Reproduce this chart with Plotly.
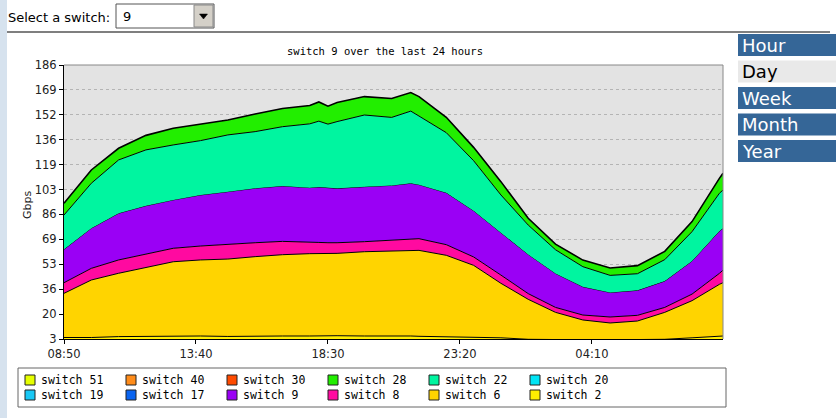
import plotly.graph_objects as go
import pandas as pd

# ---------------- data ----------------
start_time = "2010-03-01 08:50"
minutes = [0, 60, 120, 180, 240, 300, 360, 420, 480, 540, 560, 580, 600, 660, 720, 762,
           780, 840, 900, 960, 1020, 1080, 1140, 1200, 1260, 1320, 1380, 1440, 1448]

switch_2 = [4.0, 4.0, 4.6, 4.8, 4.8, 5.0, 4.7, 5.0, 5.0, 5.0, 5.2, 5.0, 5.2, 5.0, 5.2, 5.0,
            4.8, 4.6, 4.2, 3.8, 2.8, 2.5, 2.5, 2.5, 2.5, 2.8, 3.8, 4.8, 5.0]
switch_6 = [29.5, 38.4, 42.3, 46.1, 49.8, 50.8, 51.7, 53.0, 54.3, 55.0, 54.8, 55.0, 55.0, 56.3, 56.8, 57.4,
            57.4, 54.3, 48.0, 36.4, 26.7, 18.3, 13.2, 11.2, 12.5, 18.0, 24.8, 34.7, 35.6]
switch_8 = [7.1, 7.8, 8.9, 8.9, 9.0, 9.3, 9.9, 9.3, 8.9, 7.3, 7.5, 7.3, 7.1, 6.7, 6.9, 7.4,
            7.8, 7.1, 5.6, 5.5, 3.8, 3.3, 3.3, 4.0, 3.8, 3.3, 4.4, 7.3, 8.4]
switch_9 = [22.3, 26.8, 31.2, 32.2, 32.3, 34.1, 35.1, 36.4, 37.0, 36.8, 37.0, 36.6, 36.3, 36.7, 36.7, 37.2,
            36.1, 34.7, 30.9, 28.3, 26.2, 22.7, 18.9, 16.4, 16.7, 17.6, 22.1, 28.3, 27.9]
switch_17 = [0] * len(minutes)
switch_19 = [0] * len(minutes)
switch_20 = [0] * len(minutes)
switch_22 = [22.9, 30.0, 35.6, 37.3, 36.7, 36.3, 37.9, 37.8, 39.6, 42.6, 44.0, 42.6, 44.6, 47.9, 45.4, 48.2,
             45.8, 40.1, 33.4, 25.2, 19.6, 15.8, 13.4, 11.4, 11.1, 14.3, 19.6, 25.2, 25.6]
switch_28 = [7.8, 8.9, 7.8, 9.7, 11.1, 10.9, 10.0, 11.8, 12.2, 12.2, 12.8, 12.0, 12.7, 12.3, 12.6, 12.4,
             13.0, 10.3, 8.9, 8.9, 4.5, 3.8, 4.4, 4.9, 5.4, 5.5, 6.7, 10.0, 11.2]
switch_30 = [0] * len(minutes)
switch_40 = [0] * len(minutes)
switch_51 = [0] * len(minutes)

legend_names = ["switch 51", "switch 40", "switch 30", "switch 28", "switch 22", "switch 20",
                "switch 19", "switch 17", "switch 9", "switch 8", "switch 6", "switch 2"]
legend_colors = ["#e6ff00", "#ff8c1a", "#ff4b00", "#22ee00", "#00f5a0", "#00e4f5",
                 "#19c8f5", "#0a64f0", "#9a00f5", "#ff0aa0", "#ffd400", "#ffee00"]

y_ticks = [3, 19.636, 36.273, 52.909, 69.545, 86.182, 102.818, 119.455, 136.091, 152.727, 169.364, 186]
y_tick_labels = ["3", "20", "36", "53", "69", "86", "103", "119", "136", "152", "169", "186"]
x_tick_step_min = 290
x_span_min = 1448

menu_items = ["Hour", "Day", "Week", "Month", "Year"]
selected_menu = "Day"
title_text = "switch 9 over the last 24 hours"
selected_switch = "9"
y_title = "Gbps"

# ---------------- figure ----------------
W, H = 840, 418
L, R, T, B = 64, 723, 65, 339


def fx(x):
    return (x - L) / (R - L)


def fy(y):
    return (B - y) / (B - T)


t0 = pd.Timestamp(start_time)
xs = [t0 + pd.Timedelta(minutes=m) for m in minutes]

stack = [("switch 2", switch_2), ("switch 6", switch_6), ("switch 8", switch_8),
         ("switch 9", switch_9), ("switch 17", switch_17), ("switch 19", switch_19),
         ("switch 20", switch_20), ("switch 22", switch_22), ("switch 28", switch_28),
         ("switch 30", switch_30), ("switch 40", switch_40), ("switch 51", switch_51)]
color_of = dict(zip(legend_names, legend_colors))

fig = go.Figure()
for name, vals in stack:
    zero = all(v == 0 for v in vals)
    fig.add_trace(go.Scatter(
        x=xs, y=vals, name=name, mode="lines", stackgroup="one",
        fillcolor=color_of[name],
        line=dict(color="black", width=0 if zero else (1.6 if name == "switch 28" else 1)),
        hoverinfo="skip", showlegend=False))

sans = "DejaVu Sans"
mono = "DejaVu Sans Mono"

fig.update_layout(
    width=W, height=H, margin=dict(l=L, r=W - R, t=T, b=H - B),
    paper_bgcolor="white", plot_bgcolor="#e3e3e3",
    showlegend=False,
    xaxis=dict(type="date", range=[t0, t0 + pd.Timedelta(minutes=x_span_min)],
               tick0=t0, dtick=x_tick_step_min * 60000, tickformat="%H:%M",
               ticks="outside", ticklen=4, tickcolor="black", showline=True,
               linecolor="black", linewidth=1, showgrid=False, zeroline=False,
               tickfont=dict(family=sans, size=11.5, color="#222")),
    yaxis=dict(range=[3, 186], tickvals=y_ticks, ticktext=y_tick_labels,
               ticks="outside", ticklen=4, tickcolor="black", showline=True,
               linecolor="black", linewidth=1, showgrid=True, gridcolor="#b4b4b4",
               griddash="dot", gridwidth=1, zeroline=False,
               tickfont=dict(family=sans, size=11.5, color="#222")),
)

shapes = []
ann = []
# left blue page strip
shapes.append(dict(type="rect", xref="paper", yref="paper", x0=fx(0), x1=fx(7), y0=fy(H), y1=fy(0),
                   fillcolor="#d6e2ee", line=dict(width=0), layer="below"))
# top separator line
shapes.append(dict(type="line", xref="paper", yref="paper", x0=fx(7), x1=fx(830), y0=fy(32), y1=fy(32),
                   line=dict(color="#555", width=1.5)))
# plot top/right borders
shapes.append(dict(type="line", xref="paper", yref="paper", x0=0, x1=1, y0=1, y1=1,
                   line=dict(color="#888", width=1)))
shapes.append(dict(type="line", xref="paper", yref="paper", x0=1, x1=1, y0=0, y1=1,
                   line=dict(color="#888", width=1)))

# y axis title
ann.append(dict(text=y_title, xref="paper", yref="paper", x=fx(27), y=fy(205), textangle=-90,
                xanchor="center", yanchor="middle", showarrow=False,
                font=dict(family=sans, size=11, color="#222")))

# select label + dropdown
ann.append(dict(text="Select a switch:", xref="paper", yref="paper", x=fx(6), y=fy(17),
                xanchor="left", yanchor="middle", showarrow=False,
                font=dict(family=sans, size=13, color="black")))
shapes.append(dict(type="rect", xref="paper", yref="paper", x0=fx(116), x1=fx(214), y0=fy(28), y1=fy(4),
                   fillcolor="white", line=dict(color="#555", width=1)))
shapes.append(dict(type="rect", xref="paper", yref="paper", x0=fx(194), x1=fx(213), y0=fy(27), y1=fy(5),
                   fillcolor="#d4d0c8", line=dict(color="#888", width=1)))
shapes.append(dict(type="path", xref="paper", yref="paper",
                   path="M %f,%f L %f,%f L %f,%f Z" % (fx(199.5), fy(14), fx(207.5), fy(14), fx(203.5), fy(19)),
                   fillcolor="black", line=dict(color="black", width=0.5)))
ann.append(dict(text=selected_switch, xref="paper", yref="paper", x=fx(121), y=fy(16),
                xanchor="left", yanchor="middle", showarrow=False,
                font=dict(family=sans, size=13, color="black")))

# title
ann.append(dict(text=title_text, xref="paper", yref="paper", x=fx(385), y=fy(51),
                xanchor="center", yanchor="middle", showarrow=False,
                font=dict(family=mono, size=10.5, color="black")))

# right menu
for i, item in enumerate(menu_items):
    top = 34 + i * 26.5
    sel = item == selected_menu
    shapes.append(dict(type="rect", xref="paper", yref="paper", x0=fx(738), x1=fx(836),
                       y0=fy(top + 22), y1=fy(top),
                       fillcolor="#e9e9e9" if sel else "#356697", line=dict(width=0)))
    ann.append(dict(text=item, xref="paper", yref="paper", x=fx(740), y=fy(top + 11),
                    xanchor="left", yanchor="middle", showarrow=False,
                    font=dict(family=sans, size=18, color="black" if sel else "white")))

# legend box
shapes.append(dict(type="rect", xref="paper", yref="paper", x0=fx(18), x1=fx(726), y0=fy(407), y1=fy(368),
                   fillcolor="white", line=dict(color="#666", width=1)))
for i, (nm, col) in enumerate(zip(legend_names, legend_colors)):
    r, c = divmod(i, 6)
    cx = 25 + c * 101
    cy = 380 + r * 15
    shapes.append(dict(type="rect", xref="paper", yref="paper", x0=fx(cx), x1=fx(cx + 10),
                       y0=fy(cy + 5), y1=fy(cy - 5), fillcolor=col, line=dict(color="#222", width=1)))
    ann.append(dict(text=nm, xref="paper", yref="paper", x=fx(cx + 14), y=fy(cy),
                    xanchor="left", yanchor="middle", showarrow=False,
                    font=dict(family=mono, size=11.5, color="black")))

fig.update_layout(shapes=shapes, annotations=ann)
fig.write_html("out.html", config={"displayModeBar": False},
               post_script="document.body.style.margin='0';document.body.style.overflow='hidden';")
